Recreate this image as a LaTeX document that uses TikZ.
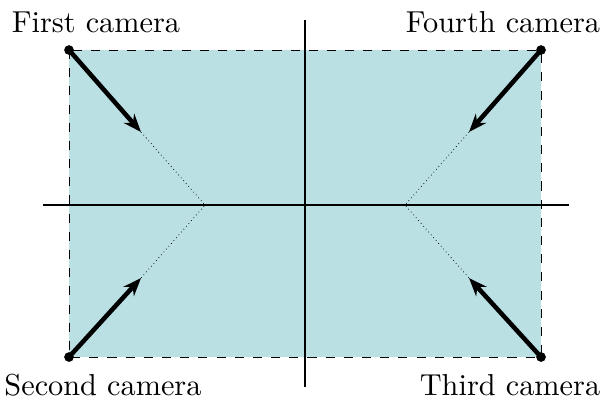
\documentclass[tikz,border=0pt]{standalone}
\usetikzlibrary{arrows.meta}
\definecolor{fillc}{RGB}{186,224,228}
\begin{document}
\begin{tikzpicture}[x=0.33pt,y=-0.33pt,
  cam/.style={line width=1.5pt,-{Stealth[length=6pt,width=4.6pt]}},
  ray/.style={line width=0.25pt,densely dotted},
  axis/.style={line width=0.75pt},
  dot/.style={circle,fill=black,inner sep=0pt,minimum size=3.2pt},
  lab/.style={font=\fontsize{10}{12}\selectfont}]
\useasboundingbox (0,0) rectangle (606,401);
\draw[fill=fillc,dashed,line width=0.3pt] (69,50) rectangle (541,357);
\coordinate (o) at (305,205);
\draw[axis] (43,205) -- (569,205);
\draw[axis] (305,20) -- (305,387);
\node[dot] (c1) at (69,50) {};
\node[dot] (c2) at (69,357) {};
\node[dot] (c3) at (541,357) {};
\node[dot] (c4) at (541,50) {};
\coordinate (t1) at (141,132);
\coordinate (t2) at (141,278);
\coordinate (t3) at (469,278);
\coordinate (t4) at (469,132);
\coordinate (pl) at (205,205);
\coordinate (pr) at (405,205);
\draw[ray] (t1) -- (pl) -- (t2);
\draw[ray] (t4) -- (pr) -- (t3);
\draw[cam] (c1.center) -- (t1);
\draw[cam] (c2.center) -- (t2);
\draw[cam] (c3.center) -- (t3);
\draw[cam] (c4.center) -- (t4);
\node[lab] (l1) at (96,22) {First camera};
\node[lab] (l4) at (503,22) {Fourth camera};
\node[lab] (l2) at (103,385) {Second camera};
\node[lab] (l3) at (510,385) {Third camera};
\end{tikzpicture}
\end{document}
